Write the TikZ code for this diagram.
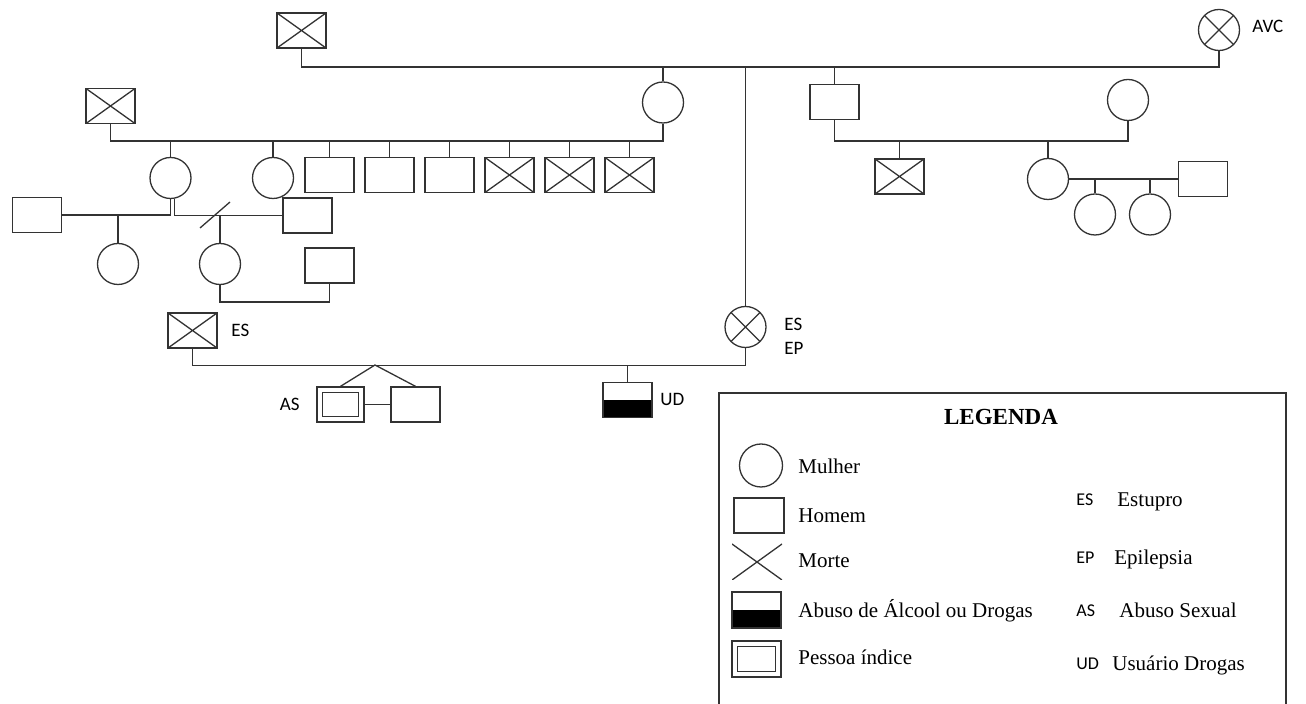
\documentclass[tikz,border=0pt]{standalone}
\usepackage{fontspec}
\setmainfont{Liberation Serif}
\newfontfamily\calibri{Carlito}
\tikzset{
  lin/.style={line width=0.65pt, draw=black!80},
  homem/.style={lin, rectangle, minimum width=24.5pt, minimum height=17.5pt, inner sep=0pt},
  mulher/.style={lin, circle, minimum size=20.5pt, inner sep=0pt},
  morto/.style={path picture={\draw[lin] (path picture bounding box.north west) -- (path picture bounding box.south east) (path picture bounding box.north east) -- (path picture bounding box.south west);}},
  drogas/.style={path picture={\fill[black] (path picture bounding box.west) rectangle (path picture bounding box.south east);}},
  indice/.style={path picture={\draw[lin] ([shift={(2.8pt,-2.8pt)}]path picture bounding box.north west) rectangle ([shift={(-2.8pt,2.8pt)}]path picture bounding box.south east);}},
  rotulo/.style={font=\calibri\fontsize{9.5}{11}\selectfont, inner sep=0pt},
  legsig/.style={font=\calibri\fontsize{9}{11}\selectfont, inner sep=0pt, anchor=base west},
  legtxt/.style={font=\fontsize{10.5}{12}\selectfont, inner sep=0pt, anchor=base west}
}
\begin{document}
\begin{tikzpicture}[x=0.5pt, y=-0.5pt]
\useasboundingbox (0,0) rectangle (1306,704);
% avos
\node[homem, morto] (avo) at (301.5,30.5) {};
\node[mulher, morto] (avoa) at (1219,30) {};
\node[rotulo, anchor=base west] at (1252,33) {AVC};
\coordinate (c1) at (745,67);
\draw[lin] (avo.south) |- (c1) -| (avoa.south);
% ramo esquerdo
\node[homem, morto] (tiom) at (110.5,106) {};
\node[mulher] (tia) at (663,102.5) {};
\draw[lin] (tia.north) -- (tia.north |- c1);
\coordinate (c2) at (400,141);
\draw[lin] (tiom.south) |- (c2) -| (tia.south);
\node[mulher] (p1) at (170.5,178) {};
\node[mulher] (p2) at (273,178) {};
\node[homem] (p3) at (329.5,175) {};
\node[homem] (p4) at (389.5,175) {};
\node[homem] (p5) at (449.5,175) {};
\node[homem, morto] (p6) at (509.5,175) {};
\node[homem, morto] (p7) at (569.5,175) {};
\node[homem, morto] (p8) at (629.5,175) {};
\foreach \i in {1,...,8}
  \draw[lin] (p\i.north) -- (p\i.north |- c2);
\node[homem] (e1) at (37,215) {};
\node[homem] (e2) at (307.5,215.5) {};
\draw[lin] (p1.south) |- (e1.east);
\draw[lin] ([xshift=2pt]p1.south) |- (e2.west);
\draw[lin] (200,228) -- (230,202);
\node[mulher] (n1) at (118,264) {};
\node[mulher] (n2) at (220,264) {};
\draw[lin] (n1.north) -- (n1.north |- e1.east);
\draw[lin] (n2.north) -- (n2.north |- e2.west);
\node[homem] (e3) at (329.5,265.5) {};
\draw[lin] (n2.south) -- ++(0,17) -| (e3.south);
% pais
\node[homem, morto] (pai) at (192.5,330.5) {};
\node[rotulo, anchor=base west] at (231,337) {ES};
\node[mulher, morto] (mae) at (745.5,327) {};
\node[rotulo, anchor=base west] at (784,331) {ES};
\node[rotulo, anchor=base west] at (784,355) {EP};
\draw[lin] (mae.north) -- (mae.north |- c1);
\draw[lin] (pai.south) -- ++(0,17) -| (mae.south);
\coordinate (gem) at (375,365);
\node[homem, indice, minimum width=23.5pt] (ind) at (340.5,404.5) {};
\node[homem] (irm) at (415.5,404.5) {};
\draw[lin] (ind.north) -- (gem) -- (irm.north);
\draw[lin] (ind) -- (irm);
\node[rotulo, anchor=base east] at (300,411) {AS};
\node[homem, drogas] (ud) at (627.5,400) {};
\draw[lin] (ud.north) -- (ud.north |- gem);
\node[rotulo, anchor=base west] at (660,406) {UD};
% ramo direito
\node[homem] (tio) at (834.5,102) {};
\draw[lin] (tio.north) -- (tio.north |- c1);
\node[mulher] (tiaa) at (1128,100) {};
\coordinate (c3) at (1000,141);
\draw[lin] (tio.south) |- (c3) -| (tiaa.south);
\node[homem, morto] (r1) at (899.5,176.5) {};
\node[mulher] (r2) at (1048,179) {};
\draw[lin] (r1.north) -- (r1.north |- c3);
\draw[lin] (r2.north) -- (r2.north |- c3);
\node[homem] (r3) at (1203,179) {};
\draw[lin] (r2) -- (r3);
\node[mulher] (r4) at (1095,214.5) {};
\node[mulher] (r5) at (1150,214.5) {};
\draw[lin] (r4.north) -- (r4.north |- r2.east);
\draw[lin] (r5.north) -- (r5.north |- r2.east);
% legenda
\draw[lin] (719,712) |- (1286,393) -- (1286,712);
\node[font=\bfseries\fontsize{11.5}{13}\selectfont, inner sep=0pt, anchor=base] at (1001,425) {LEGENDA};
\node[mulher, minimum size=21.5pt] (lmulher) at (761,465.5) {};
\node[homem, minimum width=25pt] (lhomem) at (759,515.5) {};
\node[morto, minimum width=25pt, minimum height=18pt, inner sep=0pt] (lmorte) at (757,562) {};
\node[homem, drogas, minimum height=18pt] (ldrogas) at (756.5,610) {};
\node[homem, indice, minimum height=18pt] (lindice) at (756.5,659) {};
\node[legtxt] at (798,474) {Mulher};
\node[legtxt] at (798,523) {Homem};
\node[legtxt] at (798,568) {Morte};
\node[legtxt] at (798,618) {Abuso de Álcool ou Drogas};
\node[legtxt] at (798,665) {Pessoa índice};
\node[legsig] at (1076,505.5) {ES};
\node[legtxt] at (1117,506.5) {Estupro};
\node[legsig] at (1076,564) {EP};
\node[legtxt] at (1114,565) {Epilepsia};
\node[legsig] at (1076,617) {AS};
\node[legtxt] at (1119,618) {Abuso Sexual};
\node[legsig] at (1076,670) {UD};
\node[legtxt] at (1112,671) {Usuário Drogas};
\end{tikzpicture}
\end{document}
